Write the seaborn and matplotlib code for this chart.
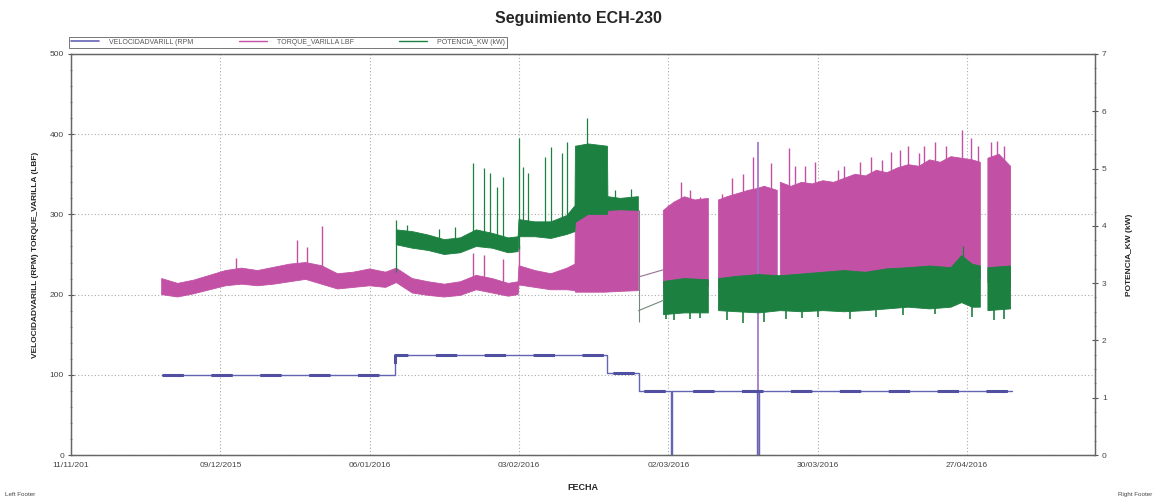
import numpy as np
import pandas as pd
import seaborn as sb
import matplotlib.pyplot as plt

# --- data ---
# velocidad varilla (rpm), step values
vel_dates = ["2015-11-28", "2016-01-10 20:00", "2016-02-19 14:00", "2016-02-25 10:00",
             "2016-03-02 10:00", "2016-03-02 16:00", "2016-03-18 16:00", "2016-03-18 22:00",
             "2016-05-05 12:00"]
vel_rpm = [100, 125, 102, 80, 0, 80, 0, 80, 80]

# torque varilla (lbf): lower / upper envelope of the noisy trace (NaN = no data)
torque_dates = ["2015-11-28", "2015-12-01", "2015-12-04", "2015-12-07", "2015-12-10",
                "2015-12-13", "2015-12-16", "2015-12-19", "2015-12-22", "2015-12-25",
                "2015-12-28", "2015-12-31", "2016-01-03", "2016-01-06", "2016-01-09",
                "2016-01-11", "2016-01-14", "2016-01-17", "2016-01-20", "2016-01-23",
                "2016-01-26", "2016-01-29", "2016-02-01", "2016-02-02 20:00", "2016-02-03",
                "2016-02-06", "2016-02-09", "2016-02-12", "2016-02-13 12:00", "2016-02-13 14:00",
                "2016-02-16", "2016-02-19", "2016-02-22", "2016-02-25 09:00", "2016-02-27",
                "2016-03-01 02:00", "2016-03-03", "2016-03-05", "2016-03-07", "2016-03-09 12:00",
                "2016-03-10", "2016-03-11 10:00", "2016-03-13", "2016-03-15", "2016-03-17",
                "2016-03-18 12:00", "2016-03-20", "2016-03-22 10:00", "2016-03-22 14:00", "2016-03-23",
                "2016-03-25", "2016-03-27", "2016-03-29", "2016-03-31", "2016-04-02",
                "2016-04-04", "2016-04-06", "2016-04-08", "2016-04-10", "2016-04-12",
                "2016-04-14", "2016-04-16", "2016-04-18", "2016-04-20", "2016-04-22",
                "2016-04-24", "2016-04-26", "2016-04-28", "2016-04-29 12:00", "2016-04-30",
                "2016-04-30 22:00", "2016-05-03", "2016-05-05 04:00"]
torque_lo = [200, 197, 201, 206, 211, 213, 211, 213, 216, 219,
             213, 207, 209, 211, 209, 215, 202, 199, 197, 199,
             206, 202, 198, 200, 212, 209, 206, 206, 205, 203,
             203, 203, 204, 205, np.nan,
             208, 210, 210, 210, 210, np.nan, 210, 210, 210, 212,
             212, 212, 212, np.nan, 212, 212, 212, 212, 214, 214,
             214, 215, 215, 216, 216, 218, 218, 218, 220, 220,
             220, 222, 220, 220, np.nan, 215, 215, 210]
torque_hi = [220, 214, 218, 224, 230, 233, 230, 234, 238, 240,
             236, 226, 228, 232, 228, 233, 220, 216, 213, 216,
             224, 220, 214, 216, 236, 230, 226, 233, 238, 305,
             306, 307, 306, 305, np.nan,
             305, 315, 322, 318, 320, np.nan, 318, 322, 326, 330,
             332, 335, 330, np.nan, 340, 335, 340, 338, 342, 340,
             345, 350, 348, 355, 352, 358, 362, 360, 368, 365,
             372, 370, 368, 365, np.nan, 370, 375, 360]

# potencia (kW) on the right axis: lower / upper envelope
pot_dates = ["2016-01-11", "2016-01-14", "2016-01-17", "2016-01-20", "2016-01-23",
             "2016-01-26", "2016-01-29", "2016-02-01", "2016-02-02 20:00", "2016-02-03",
             "2016-02-06", "2016-02-09", "2016-02-12", "2016-02-13 12:00", "2016-02-13 14:00",
             "2016-02-16", "2016-02-19 14:00", "2016-02-19 16:00", "2016-02-22", "2016-02-25 09:00",
             "2016-02-27",
             "2016-03-01 02:00", "2016-03-05", "2016-03-09 12:00", "2016-03-10", "2016-03-11 10:00",
             "2016-03-15", "2016-03-19", "2016-03-23", "2016-03-27", "2016-03-31",
             "2016-04-04", "2016-04-08", "2016-04-12", "2016-04-16", "2016-04-20",
             "2016-04-24", "2016-04-26", "2016-04-28", "2016-04-29 12:00", "2016-04-30",
             "2016-04-30 22:00", "2016-05-05 04:00"]
pot_lo = [3.67, 3.61, 3.57, 3.50, 3.53, 3.64, 3.61, 3.53, 3.55, 3.81,
          3.81, 3.78, 3.85, 3.90, 4.06, 4.20, 4.20, 4.27, 4.28, 4.27,
          np.nan,
          2.45, 2.48, 2.48, np.nan, 2.52, 2.50, 2.48, 2.52, 2.50, 2.52,
          2.50, 2.52, 2.55, 2.58, 2.55, 2.58, 2.66, 2.58, 2.58, np.nan,
          2.52, 2.55]
pot_hi = [3.93, 3.90, 3.84, 3.76, 3.79, 3.93, 3.87, 3.79, 3.81, 4.11,
          4.07, 4.07, 4.18, 4.35, 5.39, 5.43, 5.39, 4.51, 4.48, 4.51,
          np.nan,
          3.03, 3.08, 3.06, np.nan, 3.08, 3.12, 3.15, 3.13, 3.16, 3.19,
          3.22, 3.19, 3.25, 3.27, 3.30, 3.27, 3.48, 3.33, 3.30, np.nan,
          3.27, 3.30]

# isolated spikes (date, base, top)
pot_spike_dates = ["2016-01-11", "2016-01-25 10:00", "2016-01-27 12:00", "2016-01-28 14:00",
                   "2016-01-29 22:00", "2016-01-30 22:00", "2016-02-02 22:00", "2016-02-03 20:00",
                   "2016-02-04 16:00", "2016-02-07 22:00", "2016-02-09 02:00", "2016-02-11 02:00",
                   "2016-02-12 02:00", "2016-02-15 20:00", "2016-04-26 06:00",
                   "2016-01-13", "2016-01-19", "2016-01-22", "2016-02-21", "2016-02-24"]
pot_spike_base = [3.2, 3.7, 3.7, 3.7, 3.7, 3.6, 3.6, 3.9, 3.9, 3.9, 3.9, 3.9, 3.9, 4.3, 3.2,
                  3.8, 3.7, 3.7, 4.4, 4.4]
pot_spike_top = [4.10, 5.10, 5.01, 4.93, 4.68, 4.86, 5.54, 5.03, 4.93, 5.21, 5.38, 5.28,
                 5.46, 5.88, 3.64, 4.02, 3.95, 3.98, 4.62, 4.65]

# downward dips of the potencia band (kW)
pot_dip_dates = ["2016-03-01 12:00", "2016-03-03", "2016-03-06", "2016-03-08", "2016-03-13",
                 "2016-03-16", "2016-03-20", "2016-03-24", "2016-03-27", "2016-03-30",
                 "2016-04-05", "2016-04-10", "2016-04-15", "2016-04-21", "2016-04-28",
                 "2016-05-02", "2016-05-04"]
pot_dip_top = [2.6, 2.6, 2.6, 2.6, 2.6, 2.6, 2.6, 2.6, 2.6, 2.6, 2.6, 2.6, 2.7, 2.7, 2.7, 2.6, 2.6]
pot_dip_low = [2.38, 2.35, 2.38, 2.40, 2.35, 2.31, 2.32, 2.38, 2.40, 2.41, 2.38, 2.41, 2.44,
               2.46, 2.41, 2.35, 2.38]

torque_spike_dates = ["2015-12-12", "2015-12-23 10:00", "2015-12-25 08:00", "2015-12-28 02:00",
                      "2016-01-25 10:00", "2016-01-27 12:00", "2016-01-30 22:00", "2016-02-03",
                      "2016-03-02", "2016-03-04 08:00", "2016-03-06", "2016-03-08", "2016-03-12",
                      "2016-03-14", "2016-03-16", "2016-03-17 20:00", "2016-03-21 04:00",
                      "2016-03-24 14:00", "2016-03-25 20:00", "2016-03-27 16:00", "2016-03-29 14:00",
                      "2016-04-02 20:00", "2016-04-04", "2016-04-07", "2016-04-09",
                      "2016-04-11", "2016-04-12 16:00", "2016-04-14 12:00", "2016-04-16",
                      "2016-04-18", "2016-04-19", "2016-04-21", "2016-04-23", "2016-04-26",
                      "2016-04-27 16:00", "2016-04-29", "2016-05-01 10:00", "2016-05-02 16:00",
                      "2016-05-04"]
torque_spike_base = [225, 225, 225, 225, 215, 215, 215, 220,
                     300, 300, 300, 300, 300, 310, 310, 320, 320,
                     330, 330, 330, 330, 330, 330, 340, 340,
                     345, 345, 350, 350, 355, 355, 360, 360, 365,
                     360, 360, 365, 365, 355]
torque_spike_top = [246, 268, 259, 285, 252, 250, 245, 262,
                    312, 340, 330, 322, 325, 345, 350, 372, 364,
                    383, 360, 360, 365, 355, 360, 365, 372,
                    368, 378, 380, 385, 376, 385, 390, 385, 405,
                    395, 385, 390, 392, 385]

# straight segments drawn across the data gap (end of Feb)
gap_dates = ["2016-02-25 10:00", "2016-03-01 02:00"]
gap_torque = [222, 231]
gap_pot = [2.52, 2.70]
drop_date = "2016-02-25 10:00"
drop_pot = [4.27, 2.32]
zero_date = "2016-03-18 18:00"
zero_torque = [0, 390]

x_ticks = ["2015-11-11", "2015-12-09", "2016-01-06", "2016-02-03",
           "2016-03-02", "2016-03-30", "2016-04-27"]
x_tick_labels = ["11/11/201", "09/12/2015", "06/01/2016", "03/02/2016",
                 "02/03/2016", "30/03/2016", "27/04/2016"]


def to_dt(values):
    return pd.to_datetime(values, format="mixed")


# --- style ---
sb.set_theme(style="white")
plt.rcParams['font.family'] = ['Liberation Sans', 'DejaVu Sans']

c_vel = "#6464b4"
c_tor = "#c251a6"
c_pot = "#1c8040"

fig = plt.figure(figsize=(11.57, 5.0), dpi=100)
ax = fig.add_axes([71 / 1157, 45 / 500, 1024 / 1157, 401 / 500])
ax2 = ax.twinx()

vd = to_dt(vel_dates)
td = to_dt(torque_dates)
pdt = to_dt(pot_dates)

# torque band + spikes
ax.fill_between(td, torque_lo, torque_hi, color=c_tor, lw=0.6, edgecolor=c_tor, zorder=2)
ax.vlines(to_dt(torque_spike_dates), torque_spike_base, torque_spike_top,
          color=c_tor, lw=1.0, zorder=2)
ax.plot(to_dt(gap_dates), gap_torque, color="#9a7090", lw=0.8, zorder=2)
ax.vlines(to_dt([zero_date]), zero_torque[0], zero_torque[1], color="#a070c8", lw=1.2, zorder=3)

# potencia band + spikes (right axis)
ax2.fill_between(pdt, pot_lo, pot_hi, color=c_pot, lw=0.6, edgecolor=c_pot, zorder=3)
ax2.vlines(to_dt(pot_spike_dates), pot_spike_base, pot_spike_top,
           color=c_pot, lw=0.9, zorder=3)
ax2.vlines(to_dt(pot_dip_dates), pot_dip_low, pot_dip_top, color=c_pot, lw=1.2, zorder=3)
ax2.plot(to_dt(gap_dates), gap_pot, color="#708a78", lw=0.8, zorder=3)
ax2.vlines(to_dt([drop_date]), drop_pot[1], drop_pot[0], color="#708a78", lw=0.8, zorder=3)

# velocidad step line, with heavier dashes on the running (non-zero) levels
vel_df = pd.DataFrame({"fecha": vd, "rpm": vel_rpm})
sb.lineplot(data=vel_df, x="fecha", y="rpm", ax=ax, drawstyle="steps-post",
            color=c_vel, lw=1.0, zorder=4)
run_df = vel_df[vel_df["rpm"] > 0]
ax.plot(run_df["fecha"], run_df["rpm"], drawstyle="steps-post", color="#5050a0", lw=2.2,
        dashes=(7, 9), zorder=4)

# axes setup
ax.set_xlim(pd.Timestamp("2015-11-11"), pd.Timestamp("2016-05-21"))
ax.set_ylim(0, 500)
ax2.set_ylim(0, 7)
ax.set_xticks(to_dt(x_ticks))
ax.set_xticklabels(x_tick_labels)
ax.set_xticks(pd.date_range("2015-11-11", "2016-05-21", freq="7D"), minor=True)
ax.set_yticks([0, 100, 200, 300, 400, 500])
ax.set_yticks(np.arange(0, 501, 20), minor=True)
ax2.set_yticks(range(0, 8))
ax2.set_yticks(np.arange(0, 7.01, 0.25), minor=True)

for a in (ax, ax2):
    a.tick_params(which="major", direction="inout", length=4, width=0.8,
                  labelsize=6, colors="#555555", labelcolor="#444444", pad=3)
    a.tick_params(which="minor", direction="inout", length=2, width=0.6, colors="#777777")
    for s in a.spines.values():
        s.set_color("#666666")
        s.set_linewidth(0.9)

ax.grid(True, which="major", color="#aaaaaa", linestyle=(0, (1, 2)), lw=0.8)
ax.set_axisbelow(True)
ax.set_xlabel("FECHA", fontsize=6.5, fontweight="bold", labelpad=10)
ax.set_ylabel("VELOCIDADVARILL (RPM) TORQUE_VARILLA (LBF)", fontsize=6, fontweight="bold",
              labelpad=8)
ax2.set_ylabel("POTENCIA_KW (kW)", fontsize=6, fontweight="bold", labelpad=14)

fig.text(0.5, 0.962, "Seguimiento ECH-230", ha="center", va="center",
         fontsize=11.5, fontweight="bold")
fig.text(0.004, 0.008, "Left Footer", fontsize=4.5, color="#444444")
fig.text(0.996, 0.008, "Right Footer", fontsize=4.5, color="#444444", ha="right")

handles = [plt.Line2D([], [], color=c_vel, lw=1.2),
           plt.Line2D([], [], color=c_tor, lw=1.0),
           plt.Line2D([], [], color=c_pot, lw=1.0)]
leg = fig.legend(handles, ["VELOCIDADVARILL (RPM", "TORQUE_VARILLA LBF", "POTENCIA_KW (kW)"],
                 loc="lower left", bbox_to_anchor=(66 / 1157, 0.898), ncol=3,
                 fontsize=5, frameon=True, fancybox=False, borderpad=0.25,
                 handlelength=4.0, columnspacing=6.5, handletextpad=1.5)
leg.get_frame().set_edgecolor("#555555")
leg.get_frame().set_linewidth(0.7)
for t in leg.get_texts():
    t.set_color("#555555")

plt.savefig("out.png", dpi=100)
plt.close()
